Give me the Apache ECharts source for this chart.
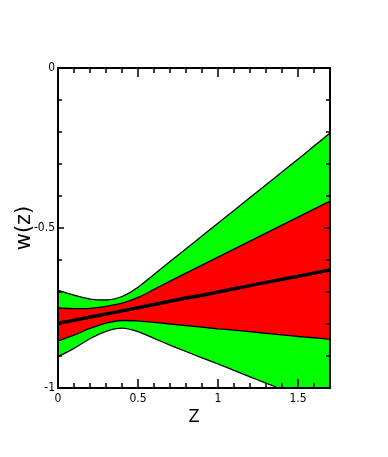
<!DOCTYPE html>
<html>
<head>
<meta charset="utf-8">
<script src="https://cdn.jsdelivr.net/npm/echarts@6/dist/echarts.min.js"></script>
<style>html,body{margin:0;padding:0;background:#fff}#c{width:388px;height:457px}</style>
</head>
<body>
<div id="c"></div>
<script>
const zCats = ['0','0.1','0.2','0.3','0.4','0.5','0.6','0.7','0.8','0.9','1','1.1','1.2','1.3','1.4','1.5','1.6','1.7'];
const xTickLabels = ['0','0.5','1','1.5'];
const greenUpper = [-0.695,-0.710,-0.722,-0.725,-0.714,-0.685,-0.645,-0.605,-0.565,-0.525,-0.485,-0.445,-0.405,-0.365,-0.325,-0.285,-0.244,-0.203];
const redUpper   = [-0.750,-0.752,-0.751,-0.745,-0.735,-0.717,-0.692,-0.666,-0.641,-0.616,-0.591,-0.566,-0.541,-0.516,-0.491,-0.466,-0.441,-0.416];
const meanLine   = [-0.798,-0.788,-0.778,-0.769,-0.759,-0.749,-0.739,-0.729,-0.719,-0.710,-0.700,-0.690,-0.680,-0.670,-0.660,-0.651,-0.641,-0.631];
const redLower   = [-0.853,-0.835,-0.814,-0.797,-0.789,-0.790,-0.795,-0.800,-0.805,-0.810,-0.815,-0.819,-0.824,-0.829,-0.834,-0.839,-0.843,-0.848];
const greenLower = [-0.902,-0.876,-0.846,-0.823,-0.813,-0.824,-0.845,-0.866,-0.886,-0.906,-0.925,-0.945,-0.965,-0.985,-1.004,-1.024,-1.044,-1.063];

const FONT = "'Liberation Sans Narrow','DejaVu Sans Condensed',sans-serif";
const GREEN = '#00ff00', RED = '#ff0000';
const diff = (a, b) => a.map((v, i) => +(v - b[i]).toFixed(4));
const isMajor = (i, v) => xTickLabels.indexOf(v) >= 0;

const gridPos = {left: 58, top: 68, right: 58, bottom: 69, containLabel: false, outerBoundsMode: 'none'};
const lineAxis = {show: true, onZero: false, lineStyle: {color: '#000', width: 2}};
const noLine = {show: false, onZero: false};
const tickStyle = {color: '#000', width: 1.5};

const chart = echarts.init(document.getElementById('c'));
const bandBase = {type: 'line', stack: 'band', stackStrategy: 'all', symbol: 'none', smooth: 0.3,
  xAxisIndex: 0, yAxisIndex: 0, lineStyle: {color: '#000', width: 1.3}, silent: true, z: 2};

chart.setOption({
  animation: false,
  backgroundColor: '#fff',
  grid: [Object.assign({}, gridPos), Object.assign({}, gridPos)],
  xAxis: [
    {type: 'category', gridIndex: 0, position: 'bottom', data: zCats, boundaryGap: false, z: 10,
     name: 'Z', nameLocation: 'middle', nameGap: 20, nameMoveOverlap: false,
     nameTextStyle: {fontFamily: FONT, fontSize: 18, color: '#000'},
     axisLine: lineAxis, axisTick: {show: true, inside: true, length: 9, interval: isMajor, lineStyle: tickStyle},
     axisLabel: {show: true, interval: isMajor, fontFamily: FONT, fontSize: 12, color: '#000', margin: 5},
     splitLine: {show: false}},
    {type: 'category', gridIndex: 0, position: 'top', data: zCats, boundaryGap: false, z: 10,
     axisLine: lineAxis, axisTick: {show: true, inside: true, length: 9, interval: isMajor, lineStyle: tickStyle},
     axisLabel: {show: false}, splitLine: {show: false}},
    {type: 'category', gridIndex: 1, position: 'bottom', data: zCats, boundaryGap: false, z: 10,
     axisLine: noLine, axisTick: {show: true, inside: true, length: 5, interval: 0, lineStyle: tickStyle},
     axisLabel: {show: false}, splitLine: {show: false}},
    {type: 'category', gridIndex: 1, position: 'top', data: zCats, boundaryGap: false, z: 10,
     axisLine: noLine, axisTick: {show: true, inside: true, length: 5, interval: 0, lineStyle: tickStyle},
     axisLabel: {show: false}, splitLine: {show: false}}
  ],
  yAxis: [
    {type: 'value', gridIndex: 0, position: 'left', min: -1, max: 0, interval: 0.5, z: 10,
     name: 'w(z)', nameLocation: 'middle', nameGap: 23, nameRotate: 90, nameMoveOverlap: false,
     nameTextStyle: {fontFamily: "'DejaVu Sans',sans-serif", fontSize: 21, color: '#000'},
     axisLine: lineAxis, axisTick: {show: true, inside: true, length: 6, lineStyle: tickStyle},
     axisLabel: {show: true, fontFamily: FONT, fontSize: 12, color: '#000', margin: 3},
     splitLine: {show: false}},
    {type: 'value', gridIndex: 0, position: 'right', min: -1, max: 0, interval: 0.5, z: 10,
     axisLine: lineAxis, axisTick: {show: true, inside: true, length: 6, lineStyle: tickStyle},
     axisLabel: {show: false}, splitLine: {show: false}},
    {type: 'value', gridIndex: 1, position: 'left', min: -1, max: 0, interval: 0.1, z: 10,
     axisLine: noLine, axisTick: {show: true, inside: true, length: 4, lineStyle: tickStyle},
     axisLabel: {show: false}, splitLine: {show: false}},
    {type: 'value', gridIndex: 1, position: 'right', min: -1, max: 0, interval: 0.1, z: 10,
     axisLine: noLine, axisTick: {show: true, inside: true, length: 4, lineStyle: tickStyle},
     axisLabel: {show: false}, splitLine: {show: false}}
  ],
  series: [
    Object.assign({}, bandBase, {name: 'greenLower', data: greenLower}),
    Object.assign({}, bandBase, {name: 'lowerGreenBand', data: diff(redLower, greenLower), areaStyle: {color: GREEN, opacity: 1}}),
    Object.assign({}, bandBase, {name: 'redBand', data: diff(redUpper, redLower), areaStyle: {color: RED, opacity: 1}}),
    Object.assign({}, bandBase, {name: 'upperGreenBand', data: diff(greenUpper, redUpper), areaStyle: {color: GREEN, opacity: 1}}),
    {type: 'line', name: 'mean', data: meanLine, xAxisIndex: 0, yAxisIndex: 0, symbol: 'none',
     lineStyle: {color: '#000', width: 3.5}, z: 5, silent: true}
  ]
});
</script>
</body>
</html>
